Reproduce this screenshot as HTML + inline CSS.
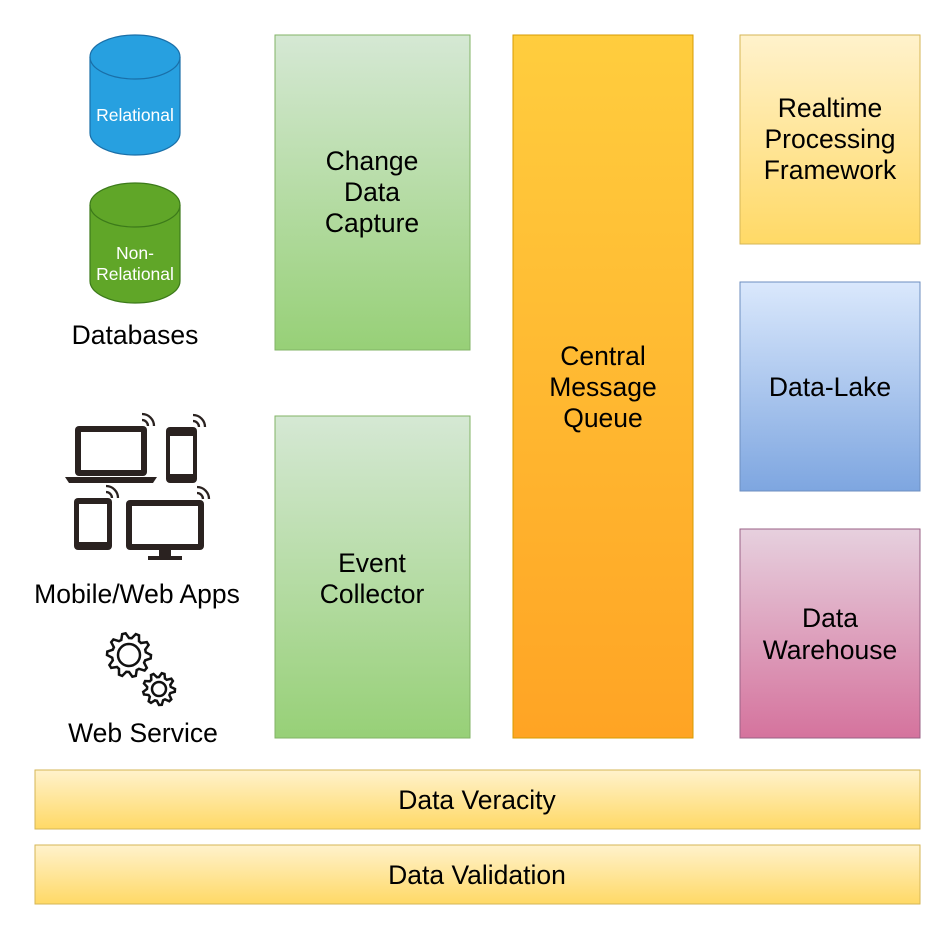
<!DOCTYPE html>
<html><head><meta charset="utf-8"><style>
body{margin:0;background:#fff;width:952px;height:938px;overflow:hidden;font-family:"Liberation Sans",sans-serif}
</style></head><body>
<svg width="952" height="938" xmlns="http://www.w3.org/2000/svg" font-family="Liberation Sans, sans-serif">
<defs>
<linearGradient id="g" x1="0" y1="0" x2="0" y2="1"><stop offset="0" stop-color="#d5e8d4"/><stop offset="1" stop-color="#97d077"/></linearGradient>
<linearGradient id="o" x1="0" y1="0" x2="0" y2="1"><stop offset="0" stop-color="#ffcd3e"/><stop offset="1" stop-color="#ffa424"/></linearGradient>
<linearGradient id="y" x1="0" y1="0" x2="0" y2="1"><stop offset="0" stop-color="#fff2cc"/><stop offset="1" stop-color="#ffd966"/></linearGradient>
<linearGradient id="b" x1="0" y1="0" x2="0" y2="1"><stop offset="0" stop-color="#dae8fc"/><stop offset="1" stop-color="#7ea6e0"/></linearGradient>
<linearGradient id="p" x1="0" y1="0" x2="0" y2="1"><stop offset="0" stop-color="#e6d0de"/><stop offset="1" stop-color="#d5739d"/></linearGradient>
</defs>
<!-- cylinders -->
<path d="M90,57 A45,22 0 0 1 180,57 L180,133 A45,22 0 0 1 90,133 Z" fill="#27a0e0" stroke="#1a6fa8" stroke-width="1.2"/>
<path d="M90,57 A45,22 0 0 0 180,57" fill="none" stroke="#1a6fa8" stroke-width="1.2"/>
<text x="135" y="121" font-size="17.5" fill="#fff" text-anchor="middle">Relational</text>
<path d="M90,205 A45,22 0 0 1 180,205 L180,281 A45,22 0 0 1 90,281 Z" fill="#60a628" stroke="#3c7a1a" stroke-width="1.2"/>
<path d="M90,205 A45,22 0 0 0 180,205" fill="none" stroke="#3c7a1a" stroke-width="1.2"/>
<text x="135" y="259" font-size="17.5" fill="#fff" text-anchor="middle">Non-</text>
<text x="135" y="280" font-size="17.5" fill="#fff" text-anchor="middle">Relational</text>
<text x="135" y="344" font-size="26.5" text-anchor="middle">Databases</text>
<!-- devices -->
<g fill="#2a2220" stroke="none">
<rect x="75" y="426" width="72" height="50" rx="4"/><rect x="81" y="432" width="60" height="38" fill="#fff"/>
<path d="M65,477 H157 L153,483 H69 Z"/>
<rect x="166" y="427" width="31" height="56" rx="4"/><rect x="170" y="436" width="23" height="38" fill="#fff"/>
<rect x="74" y="498" width="38" height="52" rx="4"/><rect x="79" y="504" width="28" height="38" fill="#fff"/>
<rect x="126" y="500" width="78" height="50" rx="4"/><rect x="132" y="506" width="66" height="38" fill="#fff"/>
<rect x="159" y="550" width="12" height="6"/><rect x="148" y="556" width="34" height="4"/>
</g>
<g fill="none" stroke="#2a2220" stroke-width="2.3">
<path d="M142,420 A6,6 0 0 1 148,426"/><path d="M142,414 A12,12 0 0 1 154,426"/>
<path d="M193,421 A6,6 0 0 1 199,427"/><path d="M193,415 A12,12 0 0 1 205,427"/>
<path d="M106,492 A6,6 0 0 1 112,498"/><path d="M106,486 A12,12 0 0 1 118,498"/>
<path d="M197,493 A6,6 0 0 1 203,499"/><path d="M197,487 A12,12 0 0 1 209,499"/>
</g>
<text x="137" y="603" font-size="26.5" text-anchor="middle">Mobile/Web Apps</text>
<g id="gears" fill="none" stroke="#111" stroke-width="2.5"></g>
<text x="143" y="742" font-size="26.5" text-anchor="middle">Web Service</text>
<!-- boxes -->
<rect x="275" y="35" width="195" height="315" fill="url(#g)" stroke="#82b366"/>
<text font-size="26.5" text-anchor="middle"><tspan x="372" y="170">Change</tspan><tspan x="372" y="201">Data</tspan><tspan x="372" y="232">Capture</tspan></text>
<rect x="275" y="416" width="195" height="322" fill="url(#g)" stroke="#82b366"/>
<text font-size="26.5" text-anchor="middle"><tspan x="372" y="572">Event</tspan><tspan x="372" y="603">Collector</tspan></text>
<rect x="513" y="35" width="180" height="703" fill="url(#o)" stroke="#d79b00"/>
<text font-size="26.5" text-anchor="middle"><tspan x="603" y="365">Central</tspan><tspan x="603" y="396">Message</tspan><tspan x="603" y="427">Queue</tspan></text>
<rect x="740" y="35" width="180" height="209" fill="url(#y)" stroke="#d6b656"/>
<text font-size="26.5" text-anchor="middle"><tspan x="830" y="117">Realtime</tspan><tspan x="830" y="148">Processing</tspan><tspan x="830" y="179">Framework</tspan></text>
<rect x="740" y="282" width="180" height="209" fill="url(#b)" stroke="#6c8ebf"/>
<text x="830" y="396" font-size="26.5" text-anchor="middle">Data-Lake</text>
<rect x="740" y="529" width="180" height="209" fill="url(#p)" stroke="#996185"/>
<text font-size="26.5" text-anchor="middle"><tspan x="830" y="627">Data</tspan><tspan x="830" y="659">Warehouse</tspan></text>
<rect x="35" y="770" width="885" height="59" fill="url(#y)" stroke="#d6b656"/>
<text x="477" y="809" font-size="26.5" text-anchor="middle">Data Veracity</text>
<rect x="35" y="845" width="885" height="59" fill="url(#y)" stroke="#d6b656"/>
<text x="477" y="884" font-size="26.5" text-anchor="middle">Data Validation</text>
</svg>
<script>
function gear(cx,cy,ro,ri,n,hole){var d="";for(var i=0;i<n*4;i++){var a=i/(n*4)*2*Math.PI;var r=(i%4<2)?ro:ri;d+=(i?"L":"M")+(cx+r*Math.cos(a)).toFixed(1)+","+(cy+r*Math.sin(a)).toFixed(1);}d+="Z";
return '<path d="'+d+'"/><circle cx="'+cx+'" cy="'+cy+'" r="'+hole+'"/>';}
document.getElementById("gears").innerHTML=gear(129,655,22,17,10,11)+gear(159,689,16,12,9,7);
</script>
</body></html>
